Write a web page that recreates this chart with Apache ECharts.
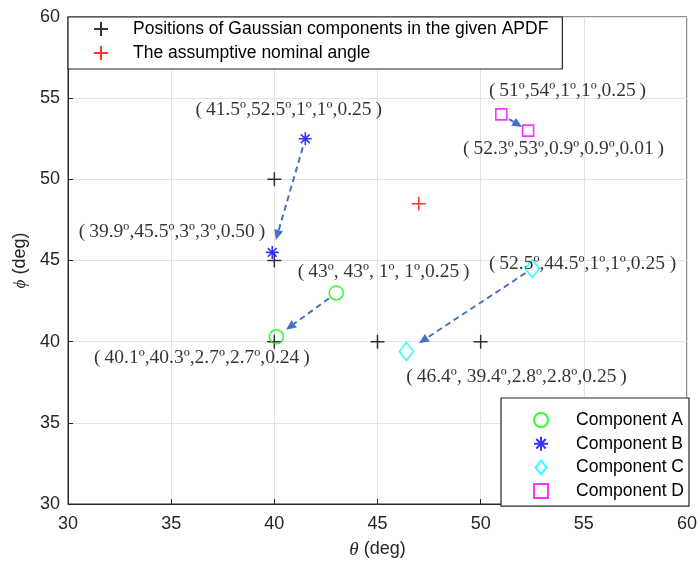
<!DOCTYPE html>
<html><head><meta charset="utf-8">
<script src="https://cdn.jsdelivr.net/npm/echarts@6/dist/echarts.min.js"></script>
<style>html,body{margin:0;padding:0;background:#fff}#c{width:700px;height:568px}</style>
</head><body><div id="c"></div>
<script>
// ---- data ----
const xTicks = [30, 35, 40, 45, 50, 55, 60];
const yTicks = [30, 35, 40, 45, 50, 55, 60];
const gaussianPositions = [[40, 50], [40, 45], [40, 40], [45, 40], [50, 40]];
const nominalAngle = [[47, 48.5]];
const compA = [[43, 43], [40.1, 40.3]];
const compB = [[41.5, 52.5], [39.9, 45.5]];
const compC = [[52.5, 44.5], [46.4, 39.4]];
const compD = [[51, 54], [52.3, 53]];
const annotTexts = [
  '(\u200941.5º,52.5º,1º,1º,0.25\u2009)',
  '(\u200939.9º,45.5º,3º,3º,0.50\u2009)',
  '(\u200943º, 43º, 1º, 1º,0.25\u2009)',
  '(\u200940.1º,40.3º,2.7º,2.7º,0.24\u2009)',
  '(\u200952.5º,44.5º,1º,1º,0.25 )',
  '(\u200946.4º, 39.4º,2.8º,2.8º,0.25\u2009)',
  '(\u200951º,54º,1º,1º,0.25\u2009)',
  '(\u200952.3º,53º,0.9º,0.9º,0.01\u2009)'
];
const legendTop = ['Positions of Gaussian components in the given APDF', 'The assumptive nominal angle'];
const legendComp = ['Component A', 'Component B', 'Component C', 'Component D'];

// ---- layout (annotation anchors in data units, arrow gaps in px) ----
const annotAnchors = [[40.70, 54.27], [35.04, 46.75], [45.30, 44.29], [36.49, 38.99],
                      [54.94, 44.78], [51.74, 37.82], [54.21, 55.44], [54.02, 51.87]];
const arrowGaps = [[9, 12], [9, 13], [8, 15], [9, 7]];

const comps = [compA, compB, compC, compD];
const arrowData = comps.map(c => [c[0][0], c[0][1], c[1][0], c[1][1]]);

const PLUS = 'path://M5,0L5,10M0,5L10,5';
const STAR = 'path://M5,0L5,10M0,5L10,5M1.6,1.6L8.4,8.4M1.6,8.4L8.4,1.6';
const DIAMOND = 'path://M5,0L10,6.5L5,13L0,6.5Z';
const SQUARE = 'path://M0,0L10,0L10,10L0,10Z';
const ARROW = '#4472C4';
const AX = '#262626';

const chart = echarts.init(document.getElementById('c'), null, {renderer: 'canvas'});
chart.setOption({
  animation: false,
  backgroundColor: '#fff',
  grid: {left: 68, right: 13, top: 17, bottom: 64, show: true, borderColor: AX, borderWidth: 1, backgroundColor: 'transparent'},
  xAxis: {
    type: 'value', min: xTicks[0], max: xTicks[xTicks.length - 1], interval: 5,
    axisLine: {lineStyle: {color: AX}}, axisTick: {inside: true, length: 5, lineStyle: {color: AX}},
    axisLabel: {fontSize: 18, color: AX, fontFamily: 'Liberation Sans, Arial', margin: 11},
    splitLine: {lineStyle: {color: '#e3e3e3'}},
    name: '{i|θ} (deg)', nameLocation: 'middle', nameGap: 36,
    nameTextStyle: {fontSize: 18, color: AX, fontFamily: 'Liberation Sans, Arial',
      rich: {i: {fontSize: 19, fontStyle: 'italic', fontFamily: 'Liberation Serif', color: AX}}}
  },
  yAxis: {
    type: 'value', min: yTicks[0], max: yTicks[yTicks.length - 1], interval: 5,
    axisLine: {lineStyle: {color: AX}}, axisTick: {inside: true, length: 5, lineStyle: {color: AX}},
    axisLabel: {fontSize: 18, color: AX, fontFamily: 'Liberation Sans, Arial', margin: 8},
    splitLine: {lineStyle: {color: '#e3e3e3'}},
    name: '{i|ϕ} (deg)', nameLocation: 'middle', nameGap: 32,
    nameTextStyle: {fontSize: 18, color: AX, fontFamily: 'Liberation Sans, Arial',
      rich: {i: {fontSize: 17, fontStyle: 'italic', fontFamily: 'Liberation Serif', color: AX}}}
  },
  legend: [
    {
      data: legendTop, orient: 'vertical', left: 68, top: 17,
      padding: [3, 14, 7, 25], itemGap: 6, itemWidth: 54, itemHeight: 14,
      backgroundColor: '#fff', borderColor: AX, borderWidth: 1.2,
      textStyle: {fontSize: 17.5, color: '#000', fontFamily: 'Liberation Sans, Arial'},
      selectedMode: false
    },
    {
      data: legendComp, orient: 'vertical', right: 11, top: 398,
      padding: [13, 5, 6, 32], itemGap: 5.7, itemWidth: 60, itemHeight: 14,
      backgroundColor: '#fff', borderColor: AX, borderWidth: 1.2,
      textStyle: {fontSize: 17.5, color: '#000', fontFamily: 'Liberation Sans, Arial'},
      selectedMode: false
    }
  ],
  series: [
    {
      type: 'custom', name: 'arrows', z: 2, silent: true,
      data: arrowData,
      renderItem: function (params, api) {
        const p0 = api.coord([api.value(0), api.value(1)]);
        const p1 = api.coord([api.value(2), api.value(3)]);
        const g = arrowGaps[params.dataIndex];
        const dx = p1[0] - p0[0], dy = p1[1] - p0[1], L = Math.hypot(dx, dy);
        const ux = dx / L, uy = dy / L;
        const s = [p0[0] + ux * g[0], p0[1] + uy * g[0]];
        const e = [p1[0] - ux * g[1], p1[1] - uy * g[1]];
        const head = 10, hw = 4.5;
        const b = [e[0] - ux * head, e[1] - uy * head];
        return {type: 'group', children: [
          {type: 'line', shape: {x1: s[0], y1: s[1], x2: b[0], y2: b[1]},
           style: {stroke: ARROW, lineWidth: 2, lineDash: [6, 4], fill: null}},
          {type: 'polygon', shape: {points: [e, [b[0] - uy * hw, b[1] + ux * hw], [b[0] + uy * hw, b[1] - ux * hw]]},
           style: {fill: ARROW}}
        ]};
      }
    },
    {type: 'scatter', name: legendTop[0], data: gaussianPositions, symbol: PLUS, symbolSize: 14, z: 3,
     itemStyle: {color: '#000', borderColor: '#000', borderWidth: 1.5}},
    {type: 'scatter', name: legendTop[1], data: nominalAngle, symbol: PLUS, symbolSize: 14, z: 3,
     itemStyle: {color: '#ff0000', borderColor: '#ff0000', borderWidth: 1.5}},
    {type: 'scatter', name: legendComp[0], data: compA, symbol: 'circle', symbolSize: 14, z: 4,
     itemStyle: {color: 'rgba(0,0,0,0)', borderColor: '#00ff00', borderWidth: 1.6}},
    {type: 'scatter', name: legendComp[1], data: compB, symbol: STAR, symbolSize: 13, z: 4,
     itemStyle: {color: '#0000ff', borderColor: '#0000ff', borderWidth: 1.6}},
    {type: 'scatter', name: legendComp[2], data: compC, symbol: DIAMOND, symbolSize: [14, 18], z: 4,
     itemStyle: {color: 'rgba(0,0,0,0)', borderColor: '#00ffff', borderWidth: 1.6}},
    {type: 'scatter', name: legendComp[3], data: compD, symbol: SQUARE, symbolSize: 11, z: 4,
     itemStyle: {color: 'rgba(0,0,0,0)', borderColor: '#ff00ff', borderWidth: 1.6}},
    {type: 'scatter', name: 'annotations', silent: true, symbolSize: 0, z: 5,
     data: annotAnchors.map((p, i) => ({value: p, name: annotTexts[i]})),
     label: {show: true, position: 'inside', formatter: '{b}', color: '#000', fontSize: 19.5,
             fontFamily: 'Liberation Serif, Times New Roman, serif'}}
  ]
});
</script></body></html>
